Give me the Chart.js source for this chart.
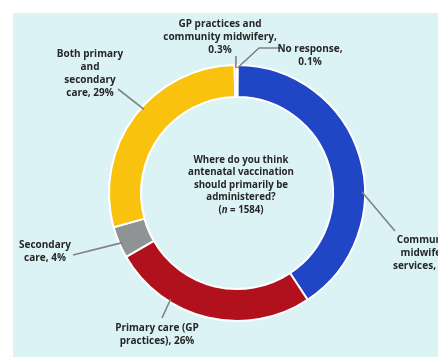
<!DOCTYPE html>
<html>
<head>
<meta charset="utf-8">
<script src="https://cdn.jsdelivr.net/npm/chart.js@4/dist/chart.umd.min.js"></script>
<style>
  html, body { margin: 0; padding: 0; background: #ffffff; }
  #wrap { width: 438px; height: 357px; position: relative; }
</style>
</head>
<body>
<div id="wrap"><canvas id="c" width="438" height="357"></canvas></div>
<script>
// Survey answers, clockwise from 12 o'clock
const categories = [
  'No response',
  'Community midwifery services',
  'Primary care (GP practices)',
  'Secondary care',
  'Both primary and secondary care',
  'GP practices and community midwifery'
];
const shares = [0.1, 40.6, 26, 4, 29, 0.3];
const sliceLabels = [
  ['No response,', '0.1%'],
  ['Community', 'midwifery', 'services, 41%'],
  ['Primary care (GP', 'practices), 26%'],
  ['Secondary', 'care, 4%'],
  ['Both primary', 'and', 'secondary', 'care, 29%'],
  ['GP practices and', 'community midwifery,', '0.3%']
];
const centreQuestion = ['Where do you think', 'antenatal vaccination', 'should primarily be', 'administered?'];
const respondents = 1584;

const sliceColours = ['#e4e4e4', '#2045c5', '#b0111d', '#8f9393', '#f8c20f', '#c4c4c4'];

// Where each label sits and how its leader line runs to the ring
// (text centre x, first baseline y, leader start, leader knee, position along the slice 0..1)
const labelLayout = [
  { x: 310, y: 49, from: [281, 48], knee: [259, 48], along: 0.5 },
  { x: 426, y: 240, from: [395, 231], knee: null, along: 0.61 },
  { x: 157, y: 328, from: [162, 318], knee: null, along: 0.70 },
  { x: 45, y: 245, from: [73, 255], knee: null, along: 0.45 },
  { x: 90, y: 54, from: [118, 89], knee: null, along: 0.55 },
  { x: 220, y: 24, from: [236, 56], knee: null, along: 0.5 }
];

const FONT = '"Open Sans", "DejaVu Sans", sans-serif';
const TEXT = '#262626';

const panelPlugin = {
  id: 'panel',
  beforeDraw(chart) {
    const ctx = chart.ctx;
    ctx.save();
    ctx.fillStyle = '#dcf3f6';
    ctx.fillRect(13, 13, chart.width - 13, chart.height - 13);
    ctx.restore();
  }
};

const labelPlugin = {
  id: 'sliceLabels',
  afterDatasetsDraw(chart) {
    const ctx = chart.ctx;
    const arcs = chart.getDatasetMeta(0).data;
    ctx.save();
    ctx.font = 'bold 10px ' + FONT;
    ctx.fillStyle = TEXT;
    ctx.textAlign = 'center';
    ctx.textBaseline = 'middle';
    arcs.forEach((arc, i) => {
      const lay = labelLayout[i];
      const a = arc.startAngle + (arc.endAngle - arc.startAngle) * lay.along;
      const r = arc.outerRadius - 3;
      const ax = arc.x + Math.cos(a) * r;
      const ay = arc.y + Math.sin(a) * r;
      ctx.strokeStyle = '#7d8384';
      ctx.lineWidth = 1.6;
      ctx.beginPath();
      ctx.moveTo(lay.from[0], lay.from[1]);
      if (lay.knee) ctx.lineTo(lay.knee[0], lay.knee[1]);
      ctx.lineTo(ax, ay);
      ctx.stroke();
      sliceLabels[i].forEach((line, k) => {
        ctx.fillText(line, lay.x, lay.y + k * 13);
      });
    });

    // centre question
    const cx = arcs[0].x, cy = arcs[0].y;
    const f = 'bold 9.7px ' + FONT;
    ctx.font = f;
    centreQuestion.forEach((line, k) => {
      ctx.fillText(line, cx + 4, cy - 33 + k * 12.5);
    });
    const yN = cy - 33 + centreQuestion.length * 12.5;
    const parts = [
      { t: '(', f: f },
      { t: 'n', f: 'italic ' + f },
      { t: ' = ' + respondents + ')', f: f }
    ];
    let total = 0;
    parts.forEach(p => { ctx.font = p.f; total += ctx.measureText(p.t).width; });
    let px = cx + 4 - total / 2;
    ctx.textAlign = 'left';
    parts.forEach(p => {
      ctx.font = p.f;
      ctx.fillText(p.t, px, yN);
      px += ctx.measureText(p.t).width;
    });
    ctx.restore();
  }
};

new Chart(document.getElementById('c'), {
  type: 'doughnut',
  data: {
    labels: categories,
    datasets: [{
      data: shares,
      backgroundColor: sliceColours,
      borderColor: '#ffffff',
      borderWidth: 2
    }]
  },
  options: {
    responsive: false,
    animation: false,
    cutout: '75%',
    layout: { padding: { left: 108, right: 72, top: 64, bottom: 35 } },
    plugins: { legend: { display: false }, tooltip: { enabled: false } }
  },
  plugins: [panelPlugin, labelPlugin]
});
</script>
</body>
</html>
